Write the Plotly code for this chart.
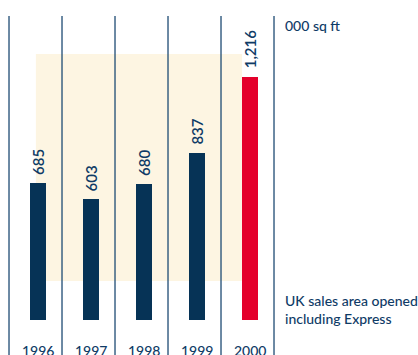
import plotly.graph_objects as go

years = ["1996", "1997", "1998", "1999", "2000"]
values = [685, 603, 680, 837, 1216]
value_labels = ["685", "603", "680", "837", "1,216"]
bar_colors = ["#063356", "#063356", "#063356", "#063356", "#e4002b"]
unit_label = "000 sq ft"
caption = "UK sales area opened<br>including Express"

NAVY_TXT = "#0f3b66"
LINE = "#1d4a73"
FONT = "Lato"

xs = list(range(len(years)))

fig = go.Figure()
fig.add_trace(go.Bar(
    x=xs, y=values, marker=dict(color=bar_colors, line=dict(width=0)),
    width=0.30, hoverinfo="skip", showlegend=False,
))

# background panel
fig.add_shape(type="rect", xref="x", yref="y", x0=-0.04, x1=3.85, y0=195, y1=1330,
              fillcolor="#fdf5e2", line=dict(width=0), layer="below")
# vertical separators
for i in range(len(years) + 1):
    fig.add_shape(type="line", xref="x", yref="y", x0=i - 0.547, x1=i - 0.547,
                  y0=-200, y1=1520, line=dict(color=LINE, width=1.3), layer="above")

for i, (v, lab) in enumerate(zip(values, value_labels)):
    fig.add_annotation(x=i, y=v, text=lab, textangle=-90, showarrow=False,
                       xanchor="center", yanchor="bottom", yshift=6,
                       font=dict(family=FONT, size=15, color=NAVY_TXT, weight=600))
    fig.add_annotation(x=i, y=-152, text=years[i], showarrow=False,
                       xanchor="center", yanchor="middle",
                       font=dict(family=FONT, size=14, color=NAVY_TXT, weight=500))

fig.add_annotation(x=(283 - 38) / 53, y=(320 - 25) / 0.2, text=unit_label, showarrow=False,
                   xanchor="left", yanchor="middle", align="left",
                   font=dict(family=FONT, size=14, color=NAVY_TXT, weight=500))
fig.add_annotation(x=(283 - 38) / 53, y=(320 - 309) / 0.2, text=caption, showarrow=False,
                   xanchor="left", yanchor="middle", align="left",
                   font=dict(family=FONT, size=14, color=NAVY_TXT, weight=500))

fig.update_layout(
    width=418, height=355, margin=dict(l=0, r=0, t=0, b=0),
    paper_bgcolor="white", plot_bgcolor="rgba(0,0,0,0)",
    xaxis=dict(range=[-38 / 53, (418 - 38) / 53], visible=False, fixedrange=True),
    yaxis=dict(range=[-175, 1600], visible=False, fixedrange=True),
    bargap=0,
)

fig.write_html("out.html")
